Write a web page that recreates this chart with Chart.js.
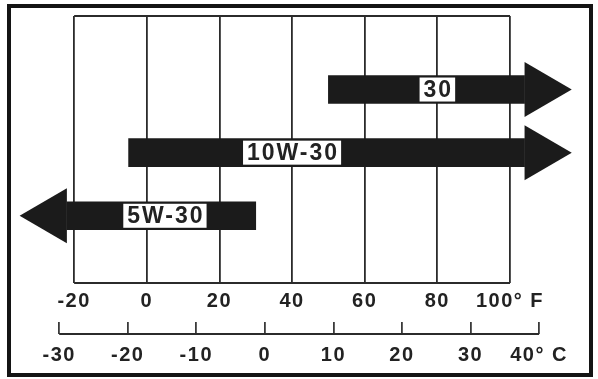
<!DOCTYPE html>
<html>
<head>
<meta charset="utf-8">
<title>Oil viscosity by temperature</title>
<script src="https://cdn.jsdelivr.net/npm/chart.js@4.4.1/dist/chart.umd.min.js"></script>
<style>
  html, body { margin: 0; padding: 0; background: #fff; }
  #wrap { position: relative; width: 598px; height: 379px; }
  #box { position: absolute; left: 7px; top: 4px; width: 578px; height: 365px; border: 4px solid #141414; }
  #chart { position: absolute; left: 0; top: 0; }
</style>
</head>
<body>
<div id="wrap">
  <div id="box"></div>
  <canvas id="chart" width="598" height="379"></canvas>
</div>
<script>
// oil grades, one arrow each (temperatures in °F)
const grades = ["30", "10W-30", "5W-30"];
const rows = [1, 2, 3];
const shaftFrom = [50, -5, -22];
const shaftTo = [104, 104, 30];
const arrowTip = [117, 117, -35];
const labelAt = [80, 40, 5];

// axis ticks
const fTicks = [-20, 0, 20, 40, 60, 80, 100];
const fLabels = ["-20", "0", "20", "40", "60", "80", "100° F"];
const cTicks = [-30, -20, -10, 0, 10, 20, 30, 40];
const cLabels = ["-30", "-20", "-10", "0", "10", "20", "30", "40° C"];

const FONT = '"Liberation Sans", Arial, sans-serif';
const INK = "#1b1b1b";
const LINE = "#2b2b2b";

// ---------- arrowheads, grade labels, frame ----------
const arrowPlugin = {
  id: "arrowPlugin",
  beforeDraw(chart) {
    chart.ctx.letterSpacing = "1.5px";
  },
  afterDatasetsDraw(chart) {
    const { ctx, chartArea, scales } = chart;
    const x = scales.x, y = scales.y, c = scales.c;
    ctx.save();

    // top and bottom of the °F frame + celsius base line
    ctx.strokeStyle = LINE;
    ctx.lineWidth = 1.8;
    const l = x.getPixelForValue(fTicks[0]);
    const r = x.getPixelForValue(fTicks[fTicks.length - 1]);
    const cy = c.top + 12;
    ctx.beginPath();
    ctx.moveTo(l, chartArea.top);
    ctx.lineTo(r, chartArea.top);
    ctx.moveTo(l, chartArea.bottom);
    ctx.lineTo(r, chartArea.bottom);
    ctx.moveTo(c.getPixelForValue(cTicks[0]), cy);
    ctx.lineTo(c.getPixelForValue(cTicks[cTicks.length - 1]), cy);
    ctx.stroke();

    // arrowheads
    ctx.fillStyle = INK;
    grades.forEach((g, i) => {
      const base = arrowTip[i] > shaftTo[i] ? shaftTo[i] : shaftFrom[i];
      const bx = x.getPixelForValue(base);
      const tx = x.getPixelForValue(arrowTip[i]);
      const yc = y.getPixelForValue(rows[i]);
      ctx.beginPath();
      ctx.moveTo(bx, yc - 27.5);
      ctx.lineTo(tx, yc);
      ctx.lineTo(bx, yc + 27.5);
      ctx.closePath();
      ctx.fill();
    });

    // grade labels in white boxes
    ctx.font = "bold 23px " + FONT;
    ctx.letterSpacing = "2px";
    ctx.textAlign = "center";
    ctx.textBaseline = "middle";
    grades.forEach((g, i) => {
      const cx = x.getPixelForValue(labelAt[i]);
      const yc = y.getPixelForValue(rows[i]);
      const w = ctx.measureText(g).width;
      ctx.fillStyle = "#fff";
      ctx.fillRect(cx - w / 2 - 3, yc - 12, w + 6, 24);
      ctx.fillStyle = "#222";
      ctx.fillText(g, cx + 1, yc + 1);
    });
    ctx.restore();
  },
};

new Chart(document.getElementById("chart"), {
  type: "bar",
  data: {
    datasets: [
      {
        data: rows.map((r, i) => ({ x: [shaftFrom[i], shaftTo[i]], y: r })),
        backgroundColor: INK,
        borderWidth: 0,
        barThickness: 28,
      },
    ],
  },
  options: {
    indexAxis: "y",
    responsive: false,
    animation: false,
    devicePixelRatio: 1,
    layout: { padding: { left: 16, right: 22.6, top: 16, bottom: 12 } },
    plugins: { legend: { display: false }, tooltip: { enabled: false } },
    scales: {
      x: {
        type: "linear",
        position: "bottom",
        weight: 0,
        min: -36,
        max: 118,
        afterBuildTicks: (s) => { s.ticks = fTicks.map((v) => ({ value: v })); },
        afterFit: (s) => { s.height = 39; },
        grid: { color: LINE, lineWidth: 1.8, drawTicks: false },
        border: { display: false },
        ticks: {
          autoSkip: false,
          maxRotation: 0,
          padding: 6,
          color: "#222",
          font: { family: FONT, size: 20, weight: "bold" },
          callback: (v, i) => fLabels[i],
        },
      },
      c: {
        type: "linear",
        axis: "x",
        position: "bottom",
        weight: 1,
        min: -36.3,
        max: 45.3,
        afterBuildTicks: (s) => { s.ticks = cTicks.map((v) => ({ value: v })); },
        afterFit: (s) => { s.height = 45; },
        grid: { drawOnChartArea: false, drawTicks: true, tickLength: 12, color: "#3a3a3a", lineWidth: 1.8 },
        border: { display: false },
        ticks: {
          autoSkip: false,
          maxRotation: 0,
          padding: 9,
          color: "#222",
          font: { family: FONT, size: 20, weight: "bold" },
          callback: (v, i) => cLabels[i],
        },
      },
      y: {
        type: "linear",
        display: false,
        reverse: true,
        min: 0.07,
        max: 3.83,
      },
    },
  },
  plugins: [arrowPlugin],
});
</script>
</body>
</html>
